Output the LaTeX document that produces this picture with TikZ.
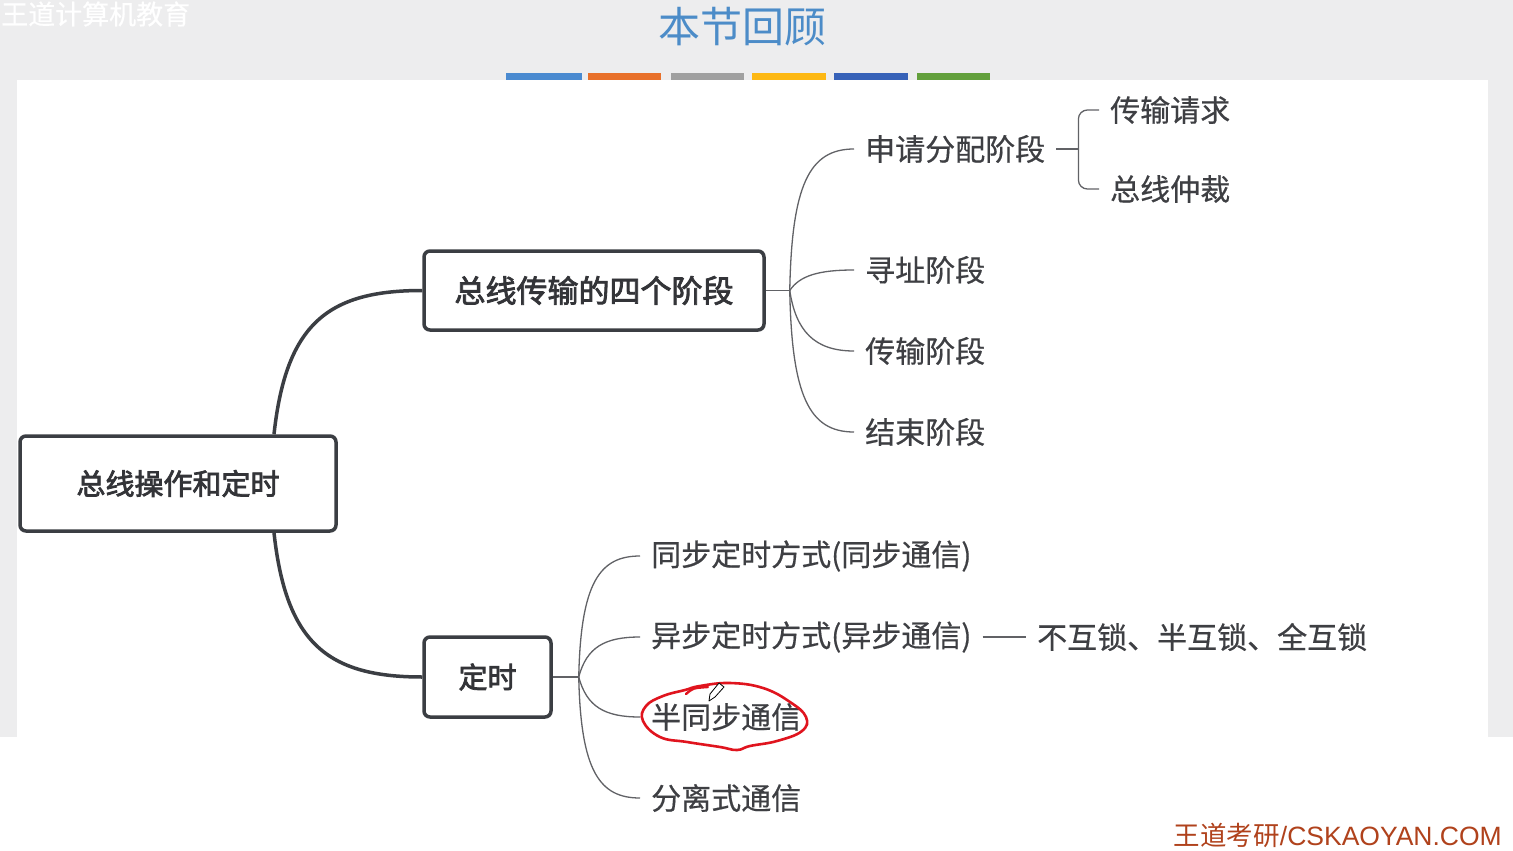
\documentclass[tikz,border=0pt]{standalone}
\usepackage{fontspec}
\setmainfont{Noto Sans CJK SC}
\newfontfamily\cjkfam{Noto Sans CJK SC}
\newfontfamily\leaffam{Noto Sans CJK SC}[FakeBold=0.5]
\newfontfamily\boxfam{Noto Sans CJK SC}[FakeBold=2.6]
\newfontfamily\arialfam{Liberation Sans}
\usetikzlibrary{calc}
\definecolor{bggray}{HTML}{EDEDEE}
\definecolor{linegray}{HTML}{3B3E43}
\definecolor{thingray}{HTML}{616266}
\definecolor{textdark}{HTML}{333438}
\definecolor{leaftext}{HTML}{3E3F43}
\definecolor{titleblue}{HTML}{4C8CC8}
\definecolor{brandorange}{HTML}{B0421C}
\definecolor{barA}{HTML}{4A8AD0}
\definecolor{barB}{HTML}{E8702A}
\definecolor{barC}{HTML}{A0A0A0}
\definecolor{barD}{HTML}{FDB813}
\definecolor{barE}{HTML}{3762B8}
\definecolor{barF}{HTML}{63A03C}
\definecolor{penred}{HTML}{E0141E}
\newcommand\myboxfont{\boxfam\fontsize{29}{34}\selectfont}
\newcommand\myleaffont{\leaffam\fontsize{30}{34}\selectfont}
\tikzset{
  box/.style={draw=linegray, line width=3.5pt, rounded corners=6pt, fill=white, text=textdark, font=\myboxfont, inner sep=0pt},
  leaf/.style={anchor=west, inner xsep=11pt, inner ysep=2pt, text=leaftext, font=\myleaffont},
  thicklink/.style={draw=linegray, line width=3.5pt},
  thinlink/.style={draw=thingray, line width=1.3pt},
}
\begin{document}
\begin{tikzpicture}[x=1pt,y=-1pt]
\useasboundingbox (0,0) rectangle (1513,851);
% background
\fill[bggray] (0,0) rectangle (1513,737);
\fill[white] (17,80) rectangle (1488,737);
\fill[white] (0,737) rectangle (1513,851);
% header
\node[anchor=west, text=white, font={\leaffam\fontsize{27}{30}\selectfont}, inner sep=0pt] (wm) at (1,14) {王道计算机教育};
\node[text=titleblue, font=\fontsize{42}{46}\selectfont, inner sep=0pt] (title) at (742,27) {本节回顾};
\fill[barA] (506,73) rectangle (582,80);
\fill[barB] (588,73) rectangle (661,80);
\fill[barC] (671,73) rectangle (744,80);
\fill[barD] (752,73) rectangle (826,80);
\fill[barE] (834,73) rectangle (908,80);
\fill[barF] (917,73) rectangle (990,80);
% boxes
\node[box, minimum width=316pt, minimum height=95pt] (root) at (178,483.5) {总线操作和定时};
\node[box, minimum width=340pt, minimum height=79pt] (stage) at (594,290.5) {\fontsize{31}{36}\selectfont 总线传输的四个阶段};
\node[box, minimum width=127pt, minimum height=80pt] (timing) at (487.5,677) {定时};
% leaves
\node[leaf] (apply) at (854,149) {申请分配阶段};
\node[leaf] (req) at (1099,110) {传输请求};
\node[leaf] (arb) at (1099,189) {总线仲裁};
\node[leaf] (addr) at (854,270) {寻址阶段};
\node[leaf] (xfer) at (854,351) {传输阶段};
\node[leaf] (endst) at (854,432) {结束阶段};
\node[leaf] (sync) at (640,556) {同步定时方式(同步通信)};
\node[leaf] (async) at (640,637) {异步定时方式(异步通信)};
\node[leaf] (lock) at (1026,637) {不互锁、半互锁、全互锁};
\node[leaf] (semi) at (640,717) {半同步通信};
\node[leaf] (split) at (640,798) {分离式通信};
% junctions
\coordinate (rt) at ([xshift=96pt]root.north);
\coordinate (rb) at ([xshift=96pt]root.south);
\coordinate (j1) at ([xshift=24pt]stage.east);
\coordinate (j2) at ([xshift=26pt]timing.east);
\coordinate (j3) at ([xshift=22pt]apply.east);
% thick links
\draw[thicklink] (rt) .. controls +(12,-110) and +(-95,0) .. (stage.west);
\draw[thicklink] (rb) .. controls +(12,110) and +(-95,0) .. (timing.west);
% thin links
\draw[thinlink] (stage.east) -- (j1);
\draw[thinlink] (j1) .. controls +(2,-105) and +(-45,0) .. (apply.west);
\draw[thinlink] (j1) .. controls +(10,-15) and +(-35,0) .. (addr.west);
\draw[thinlink] (j1) .. controls +(6,40) and +(-40,0) .. (xfer.west);
\draw[thinlink] (j1) .. controls +(2,105) and +(-45,0) .. (endst.west);
\draw[thinlink] (timing.east) -- (j2);
\draw[thinlink] (j2) .. controls +(2,-95) and +(-40,0) .. (sync.west);
\draw[thinlink] (j2) .. controls +(8,-30) and +(-35,0) .. (async.west);
\draw[thinlink] (j2) .. controls +(8,30) and +(-35,0) .. (semi.west);
\draw[thinlink] (j2) .. controls +(2,95) and +(-40,0) .. (split.west);
\draw[thinlink] (apply.east) -- (j3);
\draw[thinlink, rounded corners=9pt] (j3) |- (req.west);
\draw[thinlink, rounded corners=9pt] (j3) |- (arb.west);
\draw[thinlink] (async.east) -- (lock.west);
% red annotation
\draw[penred, line width=2.6pt, line cap=round] plot[smooth cycle, tension=0.7] coordinates {(700,686) (730,683) (763,688) (790,702) (806,717) (802,731) (777,741) (750,746) (737,750) (720,747) (687,742) (660,737) (643,721) (646,706) (663,696) (685,690)};
\draw[penred, line width=2.4pt, line cap=round] (686,694) .. controls (693,688) .. (708,687);
% pencil cursor
\draw[black, fill=white, line width=0.8pt, line join=round] (709,701) -- (710,694) -- (719,683) -- (724,687) -- (715,697) -- cycle;
% brand
\node[anchor=east, text=brandorange, inner sep=0pt] (brand) at (1502,835) {\fontsize{26.5}{30}\selectfont{\cjkfam 王道考研}{\arialfam /CSKAOYAN.COM}};
\end{tikzpicture}
\end{document}
